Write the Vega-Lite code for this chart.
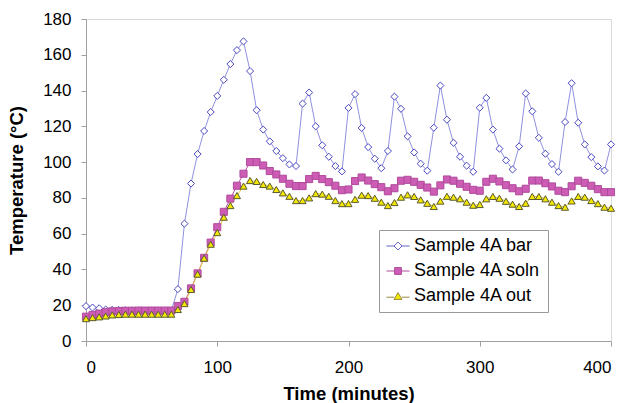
{
  "$schema": "https://vega.github.io/schema/vega-lite/v6.json",
  "width": 525,
  "height": 322,
  "autosize": "none",
  "padding": {"left": 86, "top": 19, "right": 12, "bottom": 62},
  "background": "white",
  "config": {
    "font": "Liberation Sans",
    "view": {"stroke": "#d9d9d9", "strokeWidth": 1},
    "axis": {
      "grid": false,
      "domainColor": "#a0a0a0",
      "tickColor": "#a0a0a0",
      "tickSize": 5,
      "labelFont": "Liberation Sans",
      "labelFontSize": 17,
      "labelColor": "#000000",
      "titleFont": "Liberation Sans",
      "titleFontSize": 18.5,
      "titleFontWeight": "bold",
      "titleColor": "#000000"
    },
    "legend": {
      "title": null,
      "orient": "none",
      "legendX": 293,
      "legendY": 211,
      "padding": 7,
      "strokeColor": "#999999",
      "fillColor": "white",
      "symbolSize": 64,
      "symbolOffset": 3,
      "labelOffset": 7,
      "rowPadding": 7,
      "labelFont": "Liberation Sans",
      "labelFontSize": 18,
      "labelColor": "#000000"
    }
  },
  "data": {
    "values": [
      {"t": 0, "bar": 19.5, "soln": 13.6, "out": 12.5},
      {"t": 5, "bar": 18.7, "soln": 14.6, "out": 13.1},
      {"t": 10, "bar": 18.3, "soln": 15.3, "out": 13.5},
      {"t": 15, "bar": 17.6, "soln": 16.1, "out": 14.0},
      {"t": 20, "bar": 17.4, "soln": 16.6, "out": 14.6},
      {"t": 25, "bar": 17.3, "soln": 16.8, "out": 14.8},
      {"t": 30, "bar": 17.2, "soln": 16.9, "out": 15.0},
      {"t": 35, "bar": 17.1, "soln": 16.9, "out": 15.0},
      {"t": 40, "bar": 17.0, "soln": 17.0, "out": 15.0},
      {"t": 45, "bar": 17.0, "soln": 17.0, "out": 15.0},
      {"t": 50, "bar": 17.0, "soln": 17.0, "out": 15.0},
      {"t": 55, "bar": 17.0, "soln": 17.0, "out": 15.0},
      {"t": 60, "bar": 17.0, "soln": 17.0, "out": 15.0},
      {"t": 65, "bar": 17.0, "soln": 17.0, "out": 15.0},
      {"t": 70, "bar": 29.0, "soln": 19.6, "out": 17.6},
      {"t": 75, "bar": 65.6, "soln": 21.9, "out": 20.9},
      {"t": 80, "bar": 88.0, "soln": 29.4, "out": 28.8},
      {"t": 85, "bar": 104.5, "soln": 37.8, "out": 37.4},
      {"t": 90, "bar": 117.4, "soln": 46.5, "out": 46.3},
      {"t": 95, "bar": 128.0, "soln": 55.0, "out": 54.1},
      {"t": 100, "bar": 137.0, "soln": 63.6, "out": 60.6},
      {"t": 105, "bar": 146.0, "soln": 72.2, "out": 69.2},
      {"t": 110, "bar": 154.8, "soln": 79.6, "out": 75.7},
      {"t": 115, "bar": 162.6, "soln": 86.8, "out": 81.3},
      {"t": 120, "bar": 167.5, "soln": 93.5, "out": 86.6},
      {"t": 125, "bar": 150.9, "soln": 100.0, "out": 89.7},
      {"t": 130, "bar": 129.0, "soln": 100.0, "out": 89.2},
      {"t": 135, "bar": 118.2, "soln": 98.1, "out": 87.5},
      {"t": 140, "bar": 111.6, "soln": 95.0, "out": 86.6},
      {"t": 145, "bar": 106.2, "soln": 93.1, "out": 84.7},
      {"t": 150, "bar": 102.2, "soln": 90.7, "out": 82.8},
      {"t": 155, "bar": 98.7, "soln": 87.9, "out": 80.9},
      {"t": 160, "bar": 97.8, "soln": 86.6, "out": 78.5},
      {"t": 165, "bar": 132.7, "soln": 86.6, "out": 78.5},
      {"t": 170, "bar": 138.9, "soln": 90.5, "out": 80.0},
      {"t": 175, "bar": 120.0, "soln": 92.3, "out": 82.4},
      {"t": 180, "bar": 109.4, "soln": 90.5, "out": 82.1},
      {"t": 185, "bar": 103.0, "soln": 88.8, "out": 80.9},
      {"t": 190, "bar": 97.8, "soln": 86.8, "out": 78.5},
      {"t": 195, "bar": 94.8, "soln": 84.3, "out": 76.8},
      {"t": 200, "bar": 130.3, "soln": 84.7, "out": 76.8},
      {"t": 205, "bar": 138.0, "soln": 89.4, "out": 79.2},
      {"t": 210, "bar": 119.1, "soln": 91.4, "out": 81.5},
      {"t": 215, "bar": 108.4, "soln": 89.7, "out": 81.3},
      {"t": 220, "bar": 101.9, "soln": 87.7, "out": 79.8},
      {"t": 225, "bar": 96.6, "soln": 86.0, "out": 77.6},
      {"t": 230, "bar": 106.2, "soln": 83.7, "out": 75.7},
      {"t": 235, "bar": 136.6, "soln": 85.4, "out": 77.4},
      {"t": 240, "bar": 129.8, "soln": 89.6, "out": 80.4},
      {"t": 245, "bar": 114.4, "soln": 90.1, "out": 81.7},
      {"t": 250, "bar": 105.4, "soln": 89.0, "out": 80.8},
      {"t": 255, "bar": 99.1, "soln": 87.3, "out": 78.9},
      {"t": 260, "bar": 95.2, "soln": 85.8, "out": 77.0},
      {"t": 265, "bar": 119.2, "soln": 83.5, "out": 75.2},
      {"t": 270, "bar": 142.8, "soln": 87.0, "out": 78.2},
      {"t": 275, "bar": 123.7, "soln": 90.3, "out": 80.9},
      {"t": 280, "bar": 110.8, "soln": 89.6, "out": 80.4},
      {"t": 285, "bar": 103.0, "soln": 87.9, "out": 79.5},
      {"t": 290, "bar": 98.0, "soln": 86.2, "out": 77.6},
      {"t": 295, "bar": 94.6, "soln": 84.5, "out": 75.9},
      {"t": 300, "bar": 130.4, "soln": 84.0, "out": 76.3},
      {"t": 305, "bar": 135.9, "soln": 89.0, "out": 79.5},
      {"t": 310, "bar": 118.2, "soln": 90.7, "out": 80.8},
      {"t": 315, "bar": 107.5, "soln": 89.2, "out": 79.8},
      {"t": 320, "bar": 101.0, "soln": 87.1, "out": 78.1},
      {"t": 325, "bar": 95.9, "soln": 85.4, "out": 76.5},
      {"t": 330, "bar": 108.8, "soln": 83.7, "out": 75.2},
      {"t": 335, "bar": 138.4, "soln": 85.1, "out": 77.0},
      {"t": 340, "bar": 128.4, "soln": 89.7, "out": 80.8},
      {"t": 345, "bar": 113.6, "soln": 89.7, "out": 80.8},
      {"t": 350, "bar": 104.7, "soln": 88.2, "out": 79.5},
      {"t": 355, "bar": 98.9, "soln": 86.4, "out": 77.6},
      {"t": 360, "bar": 94.6, "soln": 84.0, "out": 75.7},
      {"t": 365, "bar": 122.4, "soln": 83.2, "out": 74.8},
      {"t": 370, "bar": 144.1, "soln": 86.5, "out": 78.3},
      {"t": 375, "bar": 122.0, "soln": 89.6, "out": 80.8},
      {"t": 380, "bar": 109.9, "soln": 88.4, "out": 80.4},
      {"t": 385, "bar": 102.8, "soln": 86.8, "out": 78.5},
      {"t": 390, "bar": 97.6, "soln": 84.9, "out": 76.8},
      {"t": 395, "bar": 95.3, "soln": 83.2, "out": 74.8},
      {"t": 400, "bar": 109.9, "soln": 83.2, "out": 74.2}
    ]
  },
  "transform": [
    {"fold": ["bar", "soln", "out"], "as": ["series", "temp"]}
  ],
  "encoding": {
    "x": {
      "field": "t",
      "type": "quantitative",
      "scale": {"domain": [0, 400], "nice": false},
      "axis": {"values": [0, 100, 200, 300, 400], "title": "Time (minutes)", "labelPadding": 13, "titlePadding": 9}
    },
    "y": {
      "field": "temp",
      "type": "quantitative",
      "scale": {"domain": [0, 180], "nice": false},
      "axis": {"values": [0, 20, 40, 60, 80, 100, 120, 140, 160, 180], "title": "Temperature (°C)", "labelPadding": 10, "titlePadding": 16}
    }
  },
  "layer": [
    {
      "mark": {"type": "line", "strokeWidth": 1},
      "encoding": {
        "color": {
          "field": "series",
          "type": "nominal",
          "scale": {"domain": ["soln", "bar", "out"], "range": ["#c050a8", "#9090e0", "#e6cc3a"]},
          "legend": null
        },
        "opacity": {
          "field": "series",
          "type": "nominal",
          "scale": {"domain": ["bar", "soln", "out"], "range": [1, 1, 1]},
          "legend": {
            "labelExpr": "datum.value === 'bar' ? 'Sample 4A bar' : datum.value === 'soln' ? 'Sample 4A soln' : 'Sample 4A out'",
            "encode": {
              "symbols": {
                "update": {
                  "shape": {"signal": "datum.value === 'bar' ? 'M-2.9,0L-1,0M1,0L2.9,0M-1,0L0,-1L1,0L0,1Z' : datum.value === 'soln' ? 'M-2.9,0L-0.85,0M0.85,0L2.9,0M-0.85,-0.85L0.85,-0.85L0.85,0.85L-0.85,0.85Z' : 'M-2.9,0.3L-1,0.3M1,0.3L2.9,0.3M0,-0.85L1,0.85L-1,0.85Z'"},
                  "fill": {"signal": "datum.value === 'bar' ? '#ffffff' : datum.value === 'soln' ? '#cc5cb4' : '#f5e800'"},
                  "stroke": {"signal": "datum.value === 'bar' ? '#6464cc' : datum.value === 'soln' ? '#b04a9c' : '#9a8a40'"},
                  "strokeWidth": {"value": 1},
                  "opacity": {"value": 1}
                }
              }
            }
          }
        }
      }
    },
    {
      "mark": {"type": "point", "filled": true, "strokeWidth": 1, "opacity": 1},
      "encoding": {
        "shape": {
          "field": "series",
          "type": "nominal",
          "scale": {"domain": ["out", "soln", "bar"], "range": ["triangle-up", "square", "diamond"]},
          "legend": null
        },
        "fill": {
          "field": "series",
          "type": "nominal",
          "scale": {"domain": ["out", "soln", "bar"], "range": ["#f5e800", "#cc5cb4", "#ffffff"]},
          "legend": null
        },
        "stroke": {
          "field": "series",
          "type": "nominal",
          "scale": {"domain": ["out", "soln", "bar"], "range": ["#5a5a30", "#b04a9c", "#4848c0"]},
          "legend": null
        },
        "size": {"value": 50}
      }
    }
  ]
}
